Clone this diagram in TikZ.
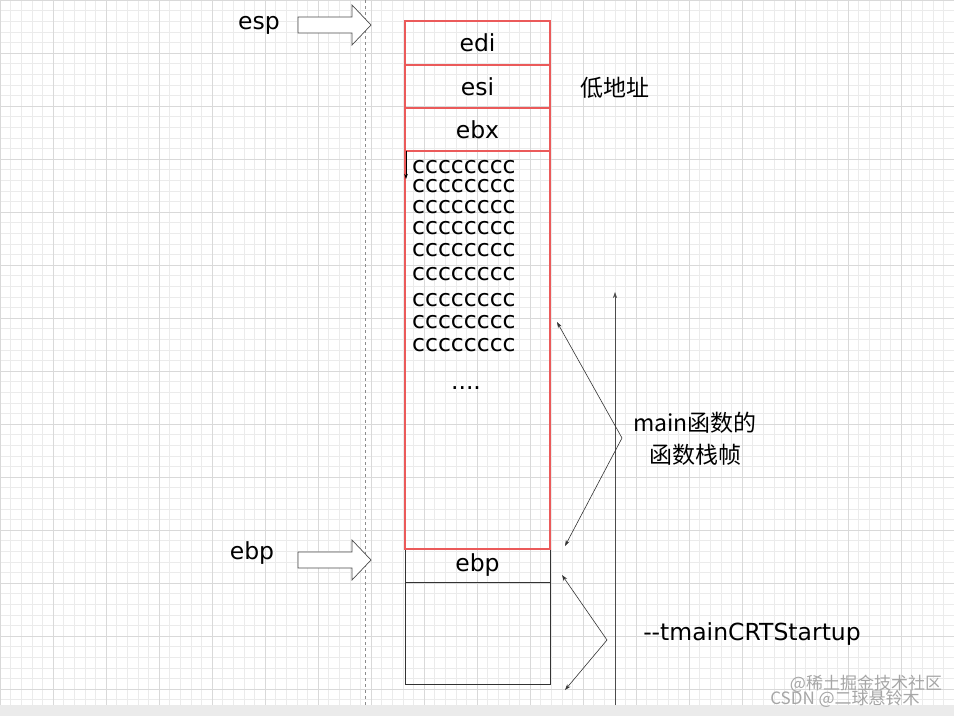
\documentclass[tikz,border=0pt]{standalone}
\usepackage{fontspec}
\setmainfont{DejaVu Sans}
\newfontfamily\cjk{Noto Sans CJK SC}
\usetikzlibrary{arrows.meta}
\definecolor{cellred}{RGB}{235,90,90}
\begin{document}
\begin{tikzpicture}[x=1pt,y=-1pt,
  txt/.style={font=\fontsize{23.5}{26}\selectfont, inner sep=0pt},
  cc/.style={font=\fontsize{23.5}{21}\selectfont, inner sep=0pt, anchor=west, text height=11pt, text depth=0pt},
  red cell/.style={draw=cellred, line width=1.2pt},
  blk cell/.style={draw=black!80, line width=0.8pt},
  barrow/.style={draw=black!70, fill=white, line width=0.7pt},
  conn/.style={draw=black!80, line width=0.6pt, -{Stealth[length=6pt,width=4pt]}}]
\useasboundingbox (0,0) rectangle (954,716);
\fill[white] (0,0) rectangle (954,716);
% grid
\foreach \x in {0,10.6,...,954} \draw[black!8, line width=0.4pt] (\x,0) -- (\x,705);
\foreach \y in {0,10.6,...,705} \draw[black!8, line width=0.4pt] (0,\y) -- (954,\y);
\foreach \x in {0,53,...,954} \draw[black!15, line width=0.5pt] (\x,0) -- (\x,705);
\foreach \y in {0,53,...,705} \draw[black!15, line width=0.5pt] (0,\y) -- (954,\y);
\fill[black!8] (0,705) rectangle (954,716);
% dashed line
\draw[black!45, dashed, line width=0.6pt] (365,0) -- (365,705);
% block arrows
\path[barrow] (298,17) -- (352,17) -- (352,5) -- (371,25) -- (352,45) -- (352,33) -- (298,33) -- cycle;
\path[barrow] (298,552) -- (352,552) -- (352,540) -- (371,560) -- (352,580) -- (352,568) -- (298,568) -- cycle;
\node[txt] (esp) at (259,25) {esp};
\node[txt] (ebpl) at (252,553) {ebp};
% stack
\node[blk cell, minimum width=145pt, minimum height=33pt, inner sep=0pt, txt] (ebp) at (477.5,565.5) {ebp};
\node[blk cell, minimum width=145pt, minimum height=102pt, inner sep=0pt] (low) at (477.5,633) {};
\node[red cell, minimum width=145pt, minimum height=398pt, inner sep=0pt] (frame) at (477.5,350) {};
\node[red cell, minimum width=145pt, minimum height=44pt, inner sep=0pt, txt] (edi) at (477.5,43) {edi};
\node[red cell, minimum width=145pt, minimum height=43pt, inner sep=0pt, txt] (esi) at (477.5,86.5) {esi};
\node[red cell, minimum width=145pt, minimum height=43pt, inner sep=0pt, txt] (ebx) at (477.5,129.5) {ebx};
\coordinate (s1) at (406,151);
\coordinate (s2) at (406,179);
\draw[black, line width=0.6pt, -{Stealth[length=5pt,width=3.5pt]}] (s1) -- (s2);
\foreach \y [count=\i] in {168,187,208,229,251,275,301,323,346}
  \node[cc] (c\i) at (412,\y) {cccccccc};
\node[txt] (dots) at (466,388) {....};
\node[txt, font=\cjk\fontsize{23}{26}\selectfont] (low addr) at (615,88) {低地址};
% vertical axis
\coordinate (ax0) at (615,705);
\coordinate (ax1) at (615,292);
\draw[conn, draw=black!70] (ax0) -- (ax1);
% braces
\coordinate (m1) at (557,322);
\coordinate (mv) at (622,438);
\coordinate (m2) at (565,546);
\draw[conn, {Stealth[length=6pt,width=4pt]}-{Stealth[length=6pt,width=4pt]}] (m1) -- (mv) -- (m2);
\coordinate (t1) at (562,575);
\coordinate (tv) at (607,640);
\coordinate (t2) at (565,690);
\draw[conn, {Stealth[length=6pt,width=4pt]}-{Stealth[length=6pt,width=4pt]}] (t1) -- (tv) -- (t2);
\node[txt, font=\cjk\fontsize{23}{26}\selectfont] (mainf) at (695,423) {main函数的};
\node[txt, font=\cjk\fontsize{23}{26}\selectfont] (mainf2) at (695,455) {函数栈帧};
\node[txt] (crt) at (752,634) {{-}{-}tmainCRTStartup};
% watermark
\node[inner sep=0pt, text=black!35, font=\cjk\fontsize{17}{18}\selectfont] (wm1) at (866,684) {@稀土掘金技术社区};
\node[inner sep=0pt, text=black!35, font=\cjk\fontsize{17}{18}\selectfont] (wm2) at (845,699) {CSDN @二球悬铃木};
\end{tikzpicture}
\end{document}
